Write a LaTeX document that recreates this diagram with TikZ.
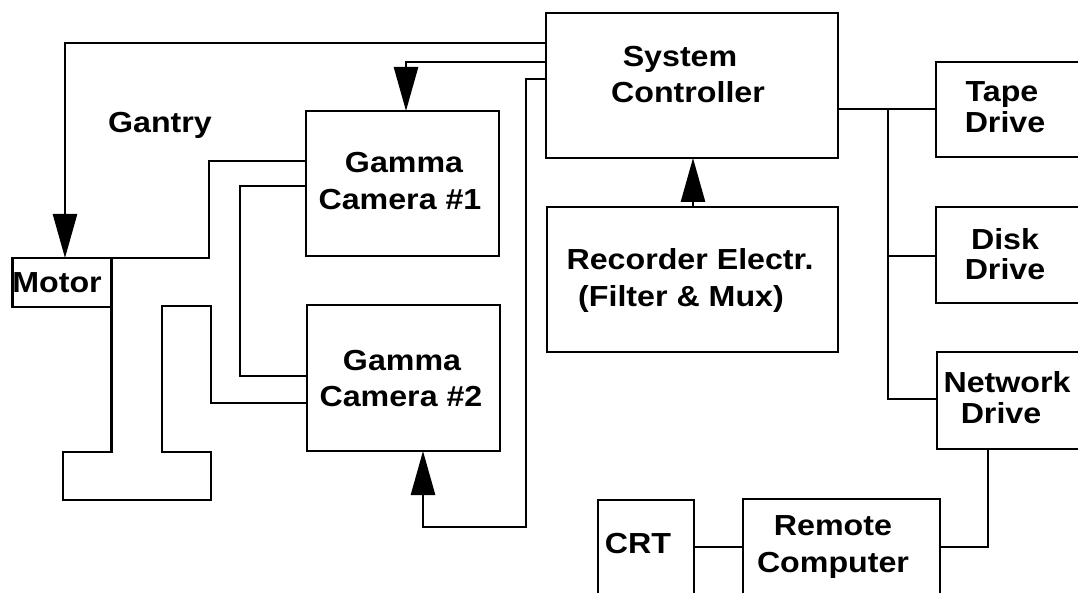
\documentclass[tikz,border=0pt]{standalone}
\usepackage{fontspec}
\setmainfont[FakeStretch=1.11]{Liberation Sans}
\usetikzlibrary{arrows.meta}
\begin{document}
\begin{tikzpicture}[x=1pt,y=-1pt, line width=2.7pt, line join=miter,
  box/.style={draw, line width=2.7pt, inner sep=0pt, outer sep=0pt, anchor=north west, rectangle},
  lbl/.style={anchor=base, inner sep=0pt, font=\bfseries\fontsize{29}{34}\selectfont},
  tip/.style={-{Triangle[length=44pt,width=24pt]}}]
\clip (0,0) rectangle (1078,593);
\fill[white] (0,0) rectangle (1078,593);
% boxes
\node[box, minimum width=292pt, minimum height=145pt] (sc) at (546,13) {};
\node[box, minimum width=291pt, minimum height=145pt] (rec) at (547,207) {};
\node[box, minimum width=193pt, minimum height=145pt] (gc1) at (306,111) {};
\node[box, minimum width=193pt, minimum height=146pt] (gc2) at (307,305) {};
\node[box, minimum width=99pt, minimum height=49pt] (motor) at (12.5,258) {};
\node[box, minimum width=170pt, minimum height=95pt] (tape) at (936,62) {};
\node[box, minimum width=170pt, minimum height=96pt] (disk) at (936,207) {};
\node[box, minimum width=170pt, minimum height=97pt] (net) at (937,352) {};
\node[box, minimum width=96pt, minimum height=110pt] (crt) at (598,500) {};
\node[box, minimum width=197pt, minimum height=110pt] (rem) at (743,499) {};
% labels
\node[lbl] (tgantry) at (160,133) {Gantry};
\node[lbl] (tgc1a) at (404,173) {Gamma};
\node[lbl] (tgc1b) at (400,210) {Camera \#1};
\node[lbl] (tgc2a) at (402,370) {Gamma};
\node[lbl] (tgc2b) at (401,406) {Camera \#2};
\node[lbl] (tsca) at (680,67) {System};
\node[lbl] (tscb) at (688,103) {Controller};
\node[lbl] (ttapea) at (1002,102) {Tape};
\node[lbl] (ttapeb) at (1005,133) {Drive};
\node[lbl] (treca) at (690,270) {Recorder Electr.};
\node[lbl] (trecb) at (681,307) {(Filter \& Mux)};
\node[lbl] (tdiska) at (1005,250) {Disk};
\node[lbl] (tdiskb) at (1005,280) {Drive};
\node[lbl] (tneta) at (1007,392) {Network};
\node[lbl] (tnetb) at (1001,423) {Drive};
\node[lbl] (tmotor) at (57,293) {Motor};
\node[lbl] (tcrt) at (638,553) {CRT};
\node[lbl] (trema) at (833,535) {Remote};
\node[lbl] (tremb) at (833,572) {Computer};
% connectors
\draw[tip] (sc.west |- 0,43) -| (motor.north -| 65,0);
\draw[tip] (sc.west |- 0,62) -| (gc1.north -| 406,0);
\coordinate (b1) at (526,79);
\coordinate (b2) at (526,527);
\draw[tip] (sc.west |- b1) -- (b1) -- (b2) -| (gc2.south -| 423,0);
\draw[tip] (rec.north -| 693,0) -- (sc.south -| 693,0);
\coordinate (bus) at (888,109);
\draw (sc.east |- bus) -- (tape.west |- bus);
\draw (bus) |- (net.west |- 0,399);
\draw (bus |- 0,256) -- (disk.west |- 0,256);
\draw (net.south -| 988,0) |- (rem.east |- 0,547);
\draw (crt.east |- 0,547) -- (rem.west |- 0,547);
% gantry outline
\draw (motor.north east) -- (209,258) -- (209,161) -- (gc1.west |- 0,161);
\draw (gc1.west |- 0,186) -| (240,376) -- (gc2.west |- 0,376);
\draw (motor.south east) -- (motor.south east |- 0,452) -- (63,452) -- (63,500) -- (211,500) -- (211,452) -- (162,452) -- (162,306) -- (211,306) -- (211,403) -- (gc2.west |- 0,403);
\end{tikzpicture}
\end{document}
